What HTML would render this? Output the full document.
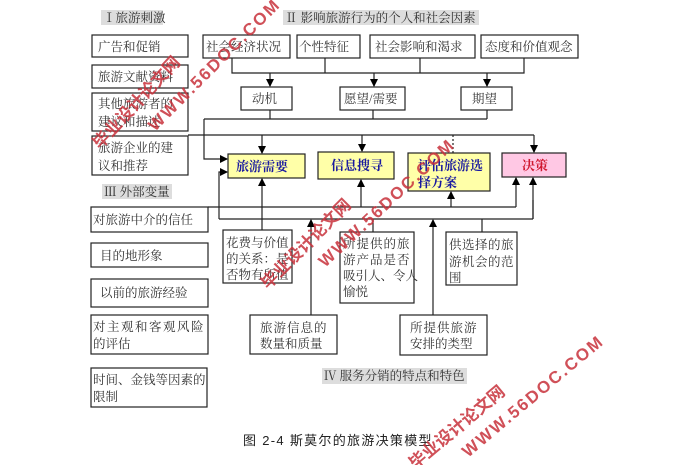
<!DOCTYPE html>
<html><head><meta charset="utf-8"><style>
html,body{margin:0;padding:0;background:#fff;width:697px;height:465px;overflow:hidden}
svg{display:block}
text{font-family:"Liberation Serif","Noto Serif CJK SC","Noto Sans CJK SC",serif;font-size:12.5px;fill:#333}
.b{font-family:"Liberation Serif","Noto Serif CJK SC",serif;font-weight:bold;fill:#1a1aa0;font-size:13px}
.wm{font-family:"Liberation Sans","Noto Sans CJK SC",sans-serif;font-weight:bold;fill:#c8323c;font-size:17px;opacity:.85}
</style></head><body>
<svg width="697" height="465" viewBox="0 0 697 465" xmlns="http://www.w3.org/2000/svg">
<defs><marker id="a" markerWidth="8" markerHeight="8" refX="7" refY="4" orient="auto" markerUnits="userSpaceOnUse"><path d="M0,0 L8,4 L0,8 z" fill="#000"/></marker></defs>
<rect x="101" y="10" width="62" height="15" fill="#ddd"/><text x="103" y="22">Ⅰ旅游刺激</text>
<rect x="283" y="10" width="196" height="15" fill="#ddd"/><text x="285" y="22">Ⅱ  影响旅游行为的个人和社会因素</text>
<rect x="102" y="184" width="70" height="15" fill="#ddd"/><text x="104" y="196">Ⅲ  外部变量</text>
<rect x="322" y="368" width="145" height="16" fill="#ddd"/><text x="324" y="380">Ⅳ  服务分销的特点和特色</text>
<g fill="#fff" stroke="#222" stroke-width="1.2">
<rect x="92" y="35" width="96" height="22"/><rect x="92" y="65" width="96" height="23"/>
<rect x="92" y="93" width="96" height="38"/><rect x="92" y="136" width="96" height="39"/>
<rect x="91" y="207" width="117" height="25"/><rect x="91" y="243" width="117" height="24"/>
<rect x="91" y="279" width="117" height="28"/><rect x="91" y="315" width="117" height="39"/>
<rect x="91" y="368" width="116" height="39"/>
<rect x="203" y="35" width="87" height="23"/><rect x="297" y="35" width="63" height="23"/>
<rect x="370" y="35" width="105" height="23"/><rect x="481" y="35" width="97" height="23"/>
<rect x="241" y="87" width="51" height="23"/><rect x="340" y="87" width="65" height="23"/><rect x="461" y="87" width="51" height="23"/>
<rect x="223" y="230" width="69" height="53"/><rect x="340" y="232" width="74" height="71"/><rect x="446" y="232" width="71" height="53"/>
<rect x="250" y="315" width="87" height="39"/><rect x="400" y="315" width="87" height="40"/>
</g>
<g stroke="#222" stroke-width="1.2">
<rect x="228" y="154" width="77" height="24" fill="#ffffa8"/><rect x="318" y="152" width="76" height="27" fill="#ffffa8"/>
<rect x="408" y="153" width="82" height="38" fill="#ffffa8"/><rect x="502" y="153" width="64" height="24" fill="#ffc8e4"/>
</g>
<g stroke="#222" stroke-width="1.2" fill="none">
<path d="M232,58V73H524V58M325,58V73M420,58V73"/>
<path d="M270,73V86" marker-end="url(#a)"/><path d="M374,73V86" marker-end="url(#a)"/><path d="M487,73V86" marker-end="url(#a)"/>
<path d="M270,110V119M373,110V119M487,110V119M204,119H487"/>
<path d="M204,119V159H227" marker-end="url(#a)"/>
<path d="M188,135H534"/>
<path d="M262,135V153" marker-end="url(#a)"/><path d="M362,135V151" marker-end="url(#a)"/><path d="M534,135V152" marker-end="url(#a)"/>
<path d="M453,135V153" stroke-dasharray="2,2"/>
<path d="M208,207H516M219,219H533M533,219V200"/>
<path d="M219,219V172H227" marker-end="url(#a)"/>
<path d="M262,230V179" marker-end="url(#a)"/><path d="M361,207V180" marker-end="url(#a)"/>
<path d="M451,207V192" marker-end="url(#a)"/><path d="M516,207V178" marker-end="url(#a)"/><path d="M533,219V178" marker-end="url(#a)"/>
<path d="M311,315V220" marker-end="url(#a)"/><path d="M433,315V220" marker-end="url(#a)"/>
<path d="M373,232V219M482,232V219"/>
</g>
<text x="98" y="51">广告和促销</text><text x="98" y="81">旅游文献资料</text>
<text x="98" y="108">其他旅游者的</text><text x="98" y="126">建议和描述</text>
<text x="98" y="152">旅游企业的建</text><text x="98" y="170">议和推荐</text>
<text x="93" y="224">对旅游中介的信任</text><text x="100" y="260">目的地形象</text><text x="100" y="297">以前的旅游经验</text>
<text x="93" y="331" letter-spacing="1.5">对主观和客观风险</text><text x="93" y="348">的评估</text>
<text x="93" y="384">时间、金钱等因素的</text><text x="93" y="401">限制</text>
<text x="206" y="51">社会经济状况</text><text x="299" y="51">个性特征</text><text x="375" y="51">社会影响和渴求</text><text x="485" y="51">态度和价值观念</text>
<text x="252" y="103">动机</text><text x="344" y="103">愿望/需要</text><text x="472" y="103">期望</text>
<text class="b" x="236" y="171">旅游需要</text><text class="b" x="331" y="170">信息搜寻</text>
<text class="b" x="418" y="170">评估旅游选</text><text class="b" x="418" y="187">择方案</text>
<text class="b" x="522" y="170" style="fill:#d01830">决策</text>
<text x="226" y="247">花费与价值</text><text x="226" y="263">的关系：是</text><text x="226" y="279">否物有所值</text>
<text x="343" y="248" letter-spacing="1">所提供的旅</text><text x="343" y="264" letter-spacing="1">游产品是否</text><text x="343" y="280">吸引人、令人</text><text x="343" y="296">愉悦</text>
<text x="449" y="249" letter-spacing="0.5">供选择的旅</text><text x="449" y="266" letter-spacing="0.5">游机会的范</text><text x="449" y="282">围</text>
<text x="260" y="332" letter-spacing="1">旅游信息的</text><text x="260" y="348">数量和质量</text>
<text x="410" y="332" letter-spacing="1">所提供旅游</text><text x="410" y="348">安排的类型</text>
<text x="243" y="445" letter-spacing="1.3" style="font-family:'Liberation Sans','Noto Sans CJK SC',sans-serif;font-size:13px;fill:#222">图  2-4  斯莫尔的旅游决策模型</text>
<text class="wm" transform="translate(100,150) rotate(-47)">毕业设计论文网</text>
<text class="wm" transform="translate(155,132) rotate(-45)" letter-spacing="2">WWW.56DOC.COM</text>
<text class="wm" transform="translate(268,290) rotate(-45)">毕业设计论文网</text>
<text class="wm" transform="translate(325,268) rotate(-43)" letter-spacing="2">WWW.56DOC.COM</text>
<text class="wm" transform="translate(415,470) rotate(-40)">毕业设计论文网</text>
<text class="wm" transform="translate(468,458) rotate(-40)" letter-spacing="2">WWW.56DOC.COM</text>
</svg>
</body></html>
